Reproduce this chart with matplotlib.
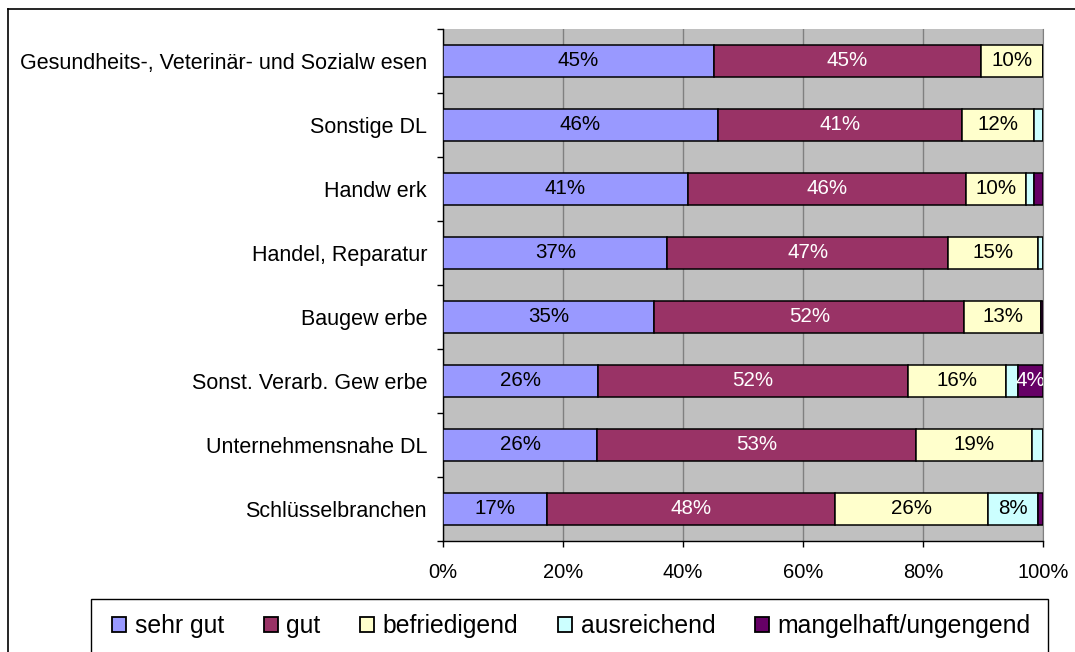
import matplotlib
matplotlib.use("Agg")
import matplotlib.pyplot as plt
from matplotlib.lines import Line2D
from matplotlib.patches import Patch, Rectangle
import numpy as np

plt.rcParams['font.family'] = ['Liberation Sans', 'DejaVu Sans']

categories = [
    "Gesundheits-, Veterinär- und Sozialw esen",
    "Sonstige DL",
    "Handw erk",
    "Handel, Reparatur",
    "Baugew erbe",
    "Sonst. Verarb. Gew erbe",
    "Unternehmensnahe DL",
    "Schlüsselbranchen",
]
series_names = ["sehr gut", "gut", "befriedigend", "ausreichend", "mangelhaft/ungengend"]
sehr_gut     = [45.1, 45.8, 40.8, 37.4, 35.2, 25.9, 25.7, 17.3]
gut          = [44.6, 40.7, 46.3, 46.8, 51.7, 51.6, 53.2, 48.0]
befriedigend = [10.3, 12.0, 10.0, 15.0, 12.7, 16.4, 19.2, 25.6]
ausreichend  = [0.0, 1.5, 1.4, 0.8, 0.0, 2.0, 1.9, 8.3]
mangelhaft   = [0.0, 0.0, 1.5, 0.0, 0.4, 4.1, 0.0, 0.8]
x_ticks = [0, 20, 40, 60, 80, 100]
x_tick_labels = ["0%", "20%", "40%", "60%", "80%", "100%"]

colors = ["#9999FF", "#993366", "#FFFFCC", "#CCFFFF", "#660066"]
text_colors = ["black", "white", "black", "black", "white"]
FS = 14.8
FS_CAT = 15.5
FS_LEG = 17.8

W, H = 1075, 652
fig = plt.figure(figsize=(W / 100, H / 100), dpi=100)
fig.patch.set_facecolor("white")

ax = fig.add_axes([443 / W, 1 - 541 / H, 600 / W, 512 / H])
ax.set_facecolor("#C0C0C0")

data = [sehr_gut, gut, befriedigend, ausreichend, mangelhaft]
y = np.arange(len(categories))
left = np.zeros(len(categories))
for vals, col, tcol, name in zip(data, colors, text_colors, series_names):
    vals = np.array(vals)
    ax.barh(y, vals, left=left, height=0.5, color=col, edgecolor="black",
            linewidth=1.1, label=name, zorder=3)
    for yi, l, v in zip(y, left, vals):
        if v >= 3.5:
            ax.text(l + v / 2, yi, f"{int(v + 0.5)}%", ha="center", va="center",
                    color=tcol, fontsize=FS, zorder=4, clip_on=True)
    left = left + vals

ax.set_xlim(0, 100)
ax.set_ylim(len(categories) - 0.5, -0.5)
ax.set_xticks(x_ticks)
ax.set_xticklabels(x_tick_labels, fontsize=14.5)
ax.set_yticks(y)
ax.set_yticklabels(categories, fontsize=FS_CAT)
ax.set_yticks(np.arange(len(categories) + 1) - 0.5, minor=True)
ax.tick_params(axis="y", which="major", length=0, pad=11.5)
ax.tick_params(axis="y", which="minor", length=4.5, width=1, color="black")
ax.tick_params(axis="x", which="major", length=4.5, width=1, pad=11)
ax.xaxis.grid(True, color="#808080", linewidth=1, zorder=1)
ax.set_axisbelow(True)
ax.spines["left"].set_color("black")
ax.spines["bottom"].set_color("black")
ax.spines["left"].set_linewidth(1)
ax.spines["bottom"].set_linewidth(1)
ax.spines["top"].set_visible(False)
ax.spines["right"].set_color("#808080")

# outer chart frame
fig.add_artist(Line2D([8 / W, 1.0], [1 - 9 / H, 1 - 9 / H], color="black", linewidth=1.2))
fig.add_artist(Line2D([8 / W, 8 / W], [0, 1 - 9 / H], color="black", linewidth=1.2))

# legend frame (extends beyond the bottom of the picture)
fig.add_artist(Rectangle((91 / W, -0.05), (1048 - 91) / W, 0.05 + (652 - 599) / H,
                         transform=fig.transFigure, facecolor="white",
                         edgecolor="black", linewidth=1))

handles = [Patch(facecolor=c, edgecolor="black", linewidth=1.3) for c in colors]
leg = fig.legend(handles, series_names, loc="center left",
                 bbox_to_anchor=(112 / W, 1 - 626 / H),
                 ncol=5, fontsize=FS_LEG, frameon=False,
                 handlelength=0.57, handleheight=0.57, handletextpad=0.35,
                 columnspacing=1.6, borderpad=0, borderaxespad=0)

fig.savefig("out.png", dpi=100)
